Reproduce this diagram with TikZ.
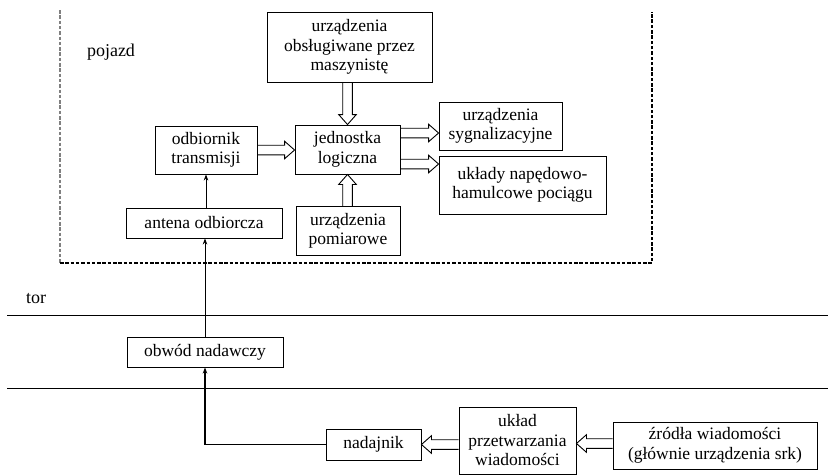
\documentclass[tikz,border=0pt]{standalone}
\usepackage{fontspec}
\setmainfont{Liberation Serif}
\newfontfamily\tnr{Liberation Serif}
\usetikzlibrary{arrows.meta,calc}
\begin{document}
\begin{tikzpicture}[x=1pt,y=-1pt,
 box/.style={draw, line width=0.9pt, align=center, inner sep=0pt, font=\tnr\fontsize{17.5}{19.5}\selectfont},
 lbl/.style={inner sep=0pt, font=\tnr\fontsize{18}{20}\selectfont},
 thinarrow/.style={line width=0.8pt, -{Stealth[length=6pt,width=4.5pt]}},
 hollow/.style={draw, line width=0.9pt, line join=miter, to path={let \p1=(\tikztostart), \p2=(\tikztotarget), \n1={atan2(\y2-\y1,\x2-\x1)}, \n2={veclen(\x2-\x1,\y2-\y1)} in
   ($(\p1)+(\n1+90:4.8pt)$) -- ($(\p1)+(\n1:{\n2*1pt-10pt})+(\n1+90:4.8pt)$) -- ($(\p1)+(\n1:{\n2*1pt-10pt})+(\n1+90:8.8pt)$) -- (\p2) -- ($(\p1)+(\n1:{\n2*1pt-10pt})+(\n1-90:8.8pt)$) -- ($(\p1)+(\n1:{\n2*1pt-10pt})+(\n1-90:4.8pt)$) -- ($(\p1)+(\n1-90:4.8pt)$)}},
 frame/.style={line width=1.1pt, dash pattern=on 3.5pt off 1.8pt}
]
\useasboundingbox (0,0) rectangle (828,475);

% vehicle frame
\draw[frame, gray] (60,10) -- (60,263);
\draw[frame] (60,263) -- (652,263) -- (652,12);

% track lines
\draw[line width=0.8pt] (7,315) -- (828,315);
\draw[line width=0.8pt] (7,388) -- (828,388);

\node[lbl] (pojazd) at (111,52) {pojazd};
\node[lbl] (tor) at (36,299) {tor};

\node[box, minimum width=165pt, minimum height=70pt] (obsl) at (349.5,47) {urządzenia\\obsługiwane przez\\maszynistę};
\node[box, minimum width=105pt, minimum height=49pt] (jedn) at (347.5,149.5) {jednostka\\logiczna};
\node[box, minimum width=102pt, minimum height=48pt] (odb) at (206,150) {odbiornik\\transmisji};
\node[box, minimum width=156pt, minimum height=30pt] (ant) at (204,223) {antena odbiorcza};
\node[box, minimum width=104pt, minimum height=49pt] (pom) at (348,231) {urządzenia\\pomiarowe};
\node[box, minimum width=123pt, minimum height=48pt] (syg) at (500.5,126) {urządzenia\\sygnalizacyjne};
\node[box, minimum width=167pt, minimum height=58pt] (nap) at (522.5,185) {układy napędowo-\\hamulcowe pociągu};
\node[box, minimum width=156pt, minimum height=30pt] (obw) at (205,352) {obwód nadawczy};
\node[box, minimum width=95pt, minimum height=31pt] (nad) at (373.5,444.5) {nadajnik};
\node[box, minimum width=117pt, minimum height=67pt] (ukl) at (517.5,440.5) {układ\\przetwarzania\\wiadomości};
\node[box, minimum width=204pt, minimum height=47pt] (zr) at (715,445.5) {źródła wiadomości\\(głównie urządzenia srk)};

% thin arrows
\draw[thinarrow] (ant.north -| odb.south) -- (odb.south);
\draw[thinarrow] (obw.north) -- (obw.north |- ant.south);
\coordinate (bend) at (obw.south |- nad.west);
\draw[line width=1.3pt, -{Stealth[length=6pt,width=4.5pt]}] (nad.west) -- (bend) -- (obw.south);

% hollow arrows
\draw[hollow] (odb.east) to (odb.east -| jedn.west);
\draw[hollow] (obsl.south -| jedn.north) to (jedn.north);
\draw[hollow] (pom.north -| jedn.south) to (jedn.south);
\coordinate (j1) at ([yshift=16.5pt]jedn.east);
\coordinate (j2) at ([yshift=-14.5pt]jedn.east);
\draw[hollow] (j1) to (j1 -| syg.west);
\draw[hollow] (j2) to (j2 -| nap.west);
\coordinate (u1) at (ukl.west |- nad.east);
\draw[hollow] (u1) to (nad.east);
\coordinate (z1) at ([yshift=2pt]zr.west);
\draw[hollow] (z1) to (z1 -| ukl.east);
\end{tikzpicture}
\end{document}
